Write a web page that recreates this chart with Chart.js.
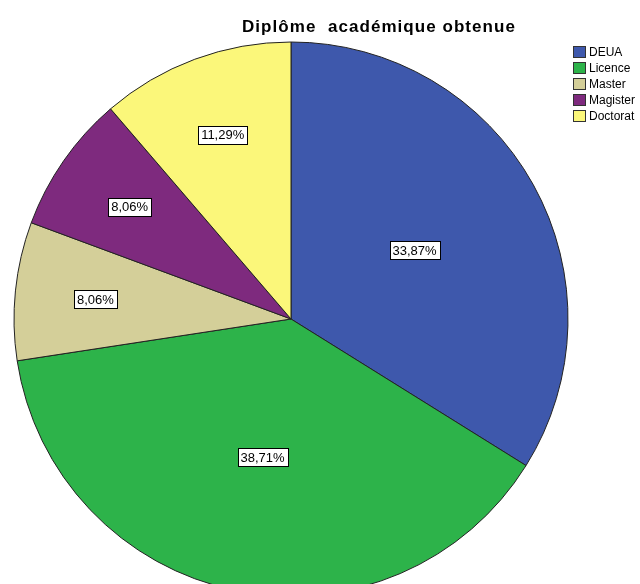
<!DOCTYPE html>
<html>
<head>
<meta charset="utf-8">
<script src="https://cdn.jsdelivr.net/npm/chart.js@4"></script>
<style>
  html, body { margin: 0; padding: 0; background: #fff; }
  #wrap { position: relative; width: 640px; height: 584px; overflow: hidden; }
  #pie { position: absolute; left: 0; top: 0; }
  #title {
    position: absolute; left: 242px; top: 17px;
    font: bold 17px "Liberation Sans", Arial, sans-serif;
    letter-spacing: 1.05px;
    white-space: pre; color: #000;
  }
  #legend { position: absolute; left: 573px; top: 44px; }
  .item {
    height: 16px; display: flex; align-items: center;
    font: 12px "Liberation Sans", Arial, sans-serif; color: #000; white-space: nowrap;
  }
  .swatch { width: 11px; height: 10px; border: 1px solid #333; margin-right: 3px; }
</style>
</head>
<body>
<div id="wrap">
  <canvas id="pie" width="640" height="600"></canvas>
  <div id="title"></div>
  <div id="legend"></div>
</div>
<script>
const titleText = "Diplôme  académique obtenue";
const categories = ["DEUA", "Licence", "Master", "Magister", "Doctorat"];
const percents = [33.87, 38.71, 8.06, 8.06, 11.29];
const colors = ["#3e58ac", "#2db34a", "#d4cf99", "#7e2a7e", "#fbf77a"];

document.getElementById("title").textContent = titleText;

const legendEl = document.getElementById("legend");
categories.forEach((name, i) => {
  const row = document.createElement("div");
  row.className = "item";
  row.innerHTML = `<span class="swatch" style="background:${colors[i]}"></span>${name}`;
  legendEl.appendChild(row);
});

function formatPct(value) {
  return value.toFixed(2).replace(".", ",") + "%";
}

// boxed percentage labels inside each slice
const sliceLabels = {
  id: "sliceLabels",
  afterDatasetsDraw(chart) {
    const { ctx } = chart;
    const meta = chart.getDatasetMeta(0);
    ctx.save();
    ctx.font = '13px "Liberation Sans", Arial, sans-serif';
    ctx.textAlign = "center";
    ctx.textBaseline = "middle";
    meta.data.forEach((arc, i) => {
      const value = percents[i];
      const mid = (arc.startAngle + arc.endAngle) / 2;
      const dist = arc.outerRadius * (value < 15 ? 0.71 : 0.51);
      const x = arc.x + Math.cos(mid) * dist;
      const y = arc.y + Math.sin(mid) * dist;
      const text = formatPct(value);
      const w = Math.round(ctx.measureText(text).width) + 6;
      const h = 18;
      const bx = Math.round(x - w / 2) + 0.5;
      const by = Math.round(y - h / 2) + 0.5;
      ctx.fillStyle = "#fff";
      ctx.fillRect(bx, by, w, h);
      ctx.strokeStyle = "#000";
      ctx.lineWidth = 1;
      ctx.strokeRect(bx, by, w, h);
      ctx.fillStyle = "#000";
      ctx.fillText(text, x, y + 1);
    });
    ctx.restore();
  },
};

new Chart(document.getElementById("pie"), {
  type: "pie",
  data: {
    labels: categories,
    datasets: [
      {
        data: percents,
        backgroundColor: colors,
        borderColor: "#222",
        borderWidth: 1,
      },
    ],
  },
  options: {
    responsive: false,
    animation: false,
    radius: 277,
    layout: { padding: { left: 14, right: 72, top: 42, bottom: 4 } },
    plugins: {
      legend: { display: false },
      tooltip: { enabled: false },
    },
  },
  plugins: [sliceLabels],
});
</script>
</body>
</html>
